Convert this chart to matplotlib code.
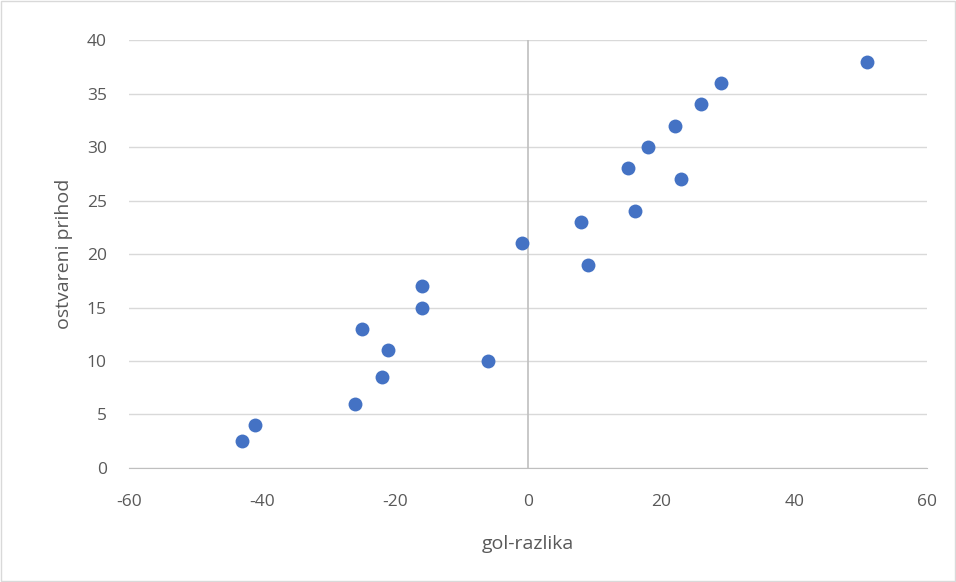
import matplotlib.pyplot as plt
from matplotlib.patches import Rectangle

gol_razlika = [51, 29, 26, 22, 18, 15, 23, 16, 8, -1, 9, -16, -16, -25, -21, -6, -22, -26, -41, -43]
prihod = [38, 36, 34, 32, 30, 28, 27, 24, 23, 21, 19, 17, 15, 13, 11, 10, 8.5, 6, 4, 2.5]

plt.rcParams['font.family'] = ['Open Sans', 'DejaVu Sans']
plt.rcParams['axes.unicode_minus'] = False

fig = plt.figure(figsize=(9.56, 5.82), dpi=100)
ax = fig.add_axes([0.135, 0.196, 0.835, 0.735])

ax.scatter(gol_razlika, prihod, s=100, color='#4472c4', zorder=3, linewidths=0)

ax.set_xlim(-60, 60)
ax.set_ylim(0, 40)
ax.set_xticks(range(-60, 61, 20))
ax.set_yticks(range(0, 41, 5))
ax.grid(axis='y', color='#d9d9d9', linewidth=1)
ax.axvline(0, color='#bfbfbf', linewidth=1.2, zorder=2)
for s in ['top', 'right', 'left']:
    ax.spines[s].set_visible(False)
ax.spines['bottom'].set_color('#bfbfbf')
ax.tick_params(axis='both', length=0, labelsize=12.5, colors='#595959')
ax.tick_params(axis='x', pad=19)
ax.tick_params(axis='y', pad=16)
ax.set_xlabel('gol-razlika', fontsize=14, color='#595959', labelpad=18)
ax.set_ylabel('ostvareni prihod', fontsize=14, color='#595959', labelpad=10)

fig.patches.append(Rectangle((0.001, 0.001), 0.998, 0.998, transform=fig.transFigure,
                             fill=False, edgecolor='#d9d9d9', linewidth=1))

fig.savefig('out.png', dpi=100)
